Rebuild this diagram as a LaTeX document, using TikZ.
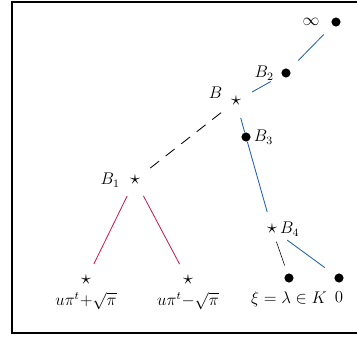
\documentclass[tikz,border=0pt]{standalone}
\usetikzlibrary{positioning}
\usepackage{xcolor}
\definecolor{bblue}{RGB}{30,95,175}
\definecolor{bred}{RGB}{200,30,80}

\begin{document}
\begin{tikzpicture}[
            x=0.025cm, y=-0.025cm,
            starpt/.style={inner sep=0pt, outer sep=0pt, font=\Large},
            dotpt/.style={circle, fill=black, inner sep=0pt, minimum size=6.5pt},
            lbl/.style={inner sep=1pt, font=\large},
            edge/.style={shorten <=9pt, shorten >=9pt},
            blueline/.style={edge, bblue, semithick},
            redline/.style={edge, bred, semithick},
            dashline/.style={edge, dash pattern=on 8pt off 6pt, semithick}
        ]
            \useasboundingbox (0,0) rectangle (357,337);
            % --- frame ---
            \draw[line width=1pt] (360,2) -- (12,2) -- (12,333) -- (360,333);

            % --- top branch ---
            \node[dotpt, label={[lbl, label distance=7pt]left:$\infty$}] (inf) at (336,22) {};
            \node[dotpt, label={[lbl, label distance=4pt]left:$B_2$}] (B2) at (286,73) {};
            \node[starpt, label={[lbl, label distance=5pt]175:$B$}] (B) at (236,101) {$\star$};

            % --- right branch ---
            \node[dotpt, label={[lbl, label distance=1pt]right:$B_3$}] (B3) at (246,137) {};
            \node[starpt, label={[lbl, label distance=1pt]right:$B_4$}] (B4) at (272,229) {$\star$};
            \node[dotpt, label={[lbl, label distance=5pt]below:$\xi=\lambda\in K$}] (xi) at (289,278) {};
            \node[dotpt, label={[lbl, label distance=5pt]below:$0$}] (zero) at (339,278) {};

            % --- left branch ---
            \node[starpt, label={[lbl, label distance=6pt]left:$B_1$}] (B1) at (135,180) {$\star$};
            \node[starpt, label={[lbl, label distance=4pt]below:$u\pi^t{+}\sqrt{\pi}$}] (Lp) at (86,280) {$\star$};
            \node[starpt, label={[lbl, label distance=4pt]below:$u\pi^t{-}\sqrt{\pi}$}] (Lm) at (188,280) {$\star$};

            % --- edges ---
            \draw[blueline] (B2) -- (inf);
            \draw[blueline] (B) -- (B2);
            \draw[blueline, shorten >=0pt] (B) -- (B3);
            \draw[blueline, shorten <=0pt] (B3) -- (B4);
            \draw[dashline] (B) -- (B1);
            \draw[redline] (B1) -- (Lp);
            \draw[redline] (B1) -- (Lm);
            \draw[edge, thin, shorten <=6pt, shorten >=6pt] (B4) -- (xi);
            \draw[blueline] (B4) -- (zero);
        \end{tikzpicture}
\end{document}
